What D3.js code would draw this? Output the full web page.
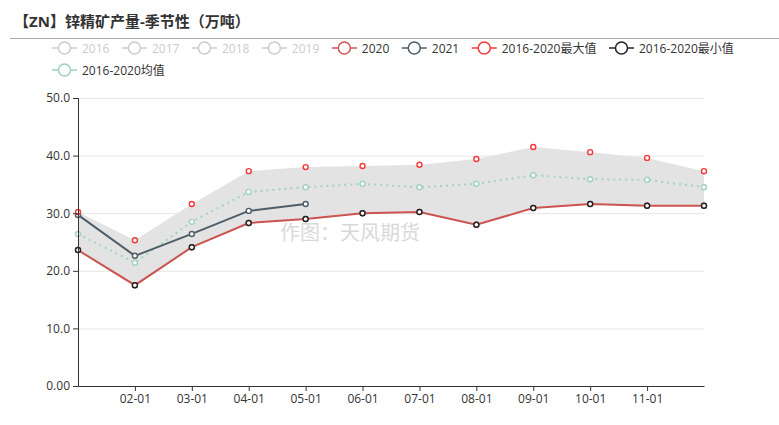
<!DOCTYPE html>
<html>
<head>
<meta charset="utf-8">
<script src="https://cdn.jsdelivr.net/npm/d3@7"></script>
<style>
  body { margin: 0; background: #fff; }
  text { font-family: "Open Sans", "Noto Sans CJK SC", sans-serif; }
</style>
</head>
<body>
<div id="chart"></div>
<script>
// categories and values (万吨)
var months = ["01-01", "02-01", "03-01", "04-01", "05-01", "06-01",
  "07-01", "08-01", "09-01", "10-01", "11-01", "12-01"];
var tickMonths = ["02-01", "03-01", "04-01", "05-01", "06-01", "07-01",
  "08-01", "09-01", "10-01", "11-01"];
var yTicks = [0, 10, 20, 30, 40, 50];
var yTickLabels = ["0.00", "10.0", "20.0", "30.0", "40.0", "50.0"];

var s2020 = [23.6, 17.5, 24.1, 28.3, 29.0, 30.0, 30.2, 28.0, 30.9, 31.6, 31.3, 31.3];
var s2021 = [29.7, 22.6, 26.4, 30.4, 31.6];
var sMax = [30.2, 25.3, 31.6, 37.3, 38.0, 38.2, 38.4, 39.4, 41.5, 40.6, 39.6, 37.3];
var sMin = [23.6, 17.5, 24.1, 28.3, 29.0, 30.0, 30.2, 28.0, 30.9, 31.6, 31.3, 31.3];
var sMean = [26.4, 21.4, 28.5, 33.7, 34.5, 35.1, 34.5, 35.1, 36.6, 35.9, 35.8, 34.5];

var legendItems = [
  { name: "2016", color: "#ccc", off: true },
  { name: "2017", color: "#ccc", off: true },
  { name: "2018", color: "#ccc", off: true },
  { name: "2019", color: "#ccc", off: true },
  { name: "2020", color: "#cc5450" },
  { name: "2021", color: "#4f5d69" },
  { name: "2016-2020最大值", color: "#f23a3a" },
  { name: "2016-2020最小值", color: "#222" },
  { name: "2016-2020均值", color: "#9fd0bb", row: 1 }
];

var w = 779, h = 425;
var padLeft = 78, padRight = 704, padTop = 98, padBottom = 386;

var svg = d3.select("#chart").append("svg")
  .attr("width", w)
  .attr("height", h);

// title
svg.append("text")
  .attr("x", 14).attr("y", 27)
  .attr("font-size", "15px").attr("font-weight", "bold")
  .attr("fill", "#333")
  .text("【ZN】锌精矿产量-季节性（万吨）");
svg.append("line")
  .attr("x1", 10).attr("x2", w).attr("y1", 38.5).attr("y2", 38.5)
  .attr("stroke", "#aaa");

// legend
var lx = 52;
legendItems.forEach(function(d) {
  if (d.row === 1) lx = 52;
  var ly = d.row === 1 ? 70 : 48;
  var g = svg.append("g").attr("transform", "translate(" + lx + "," + ly + ")");
  g.append("line").attr("x1", 0).attr("x2", 25).attr("y1", 0).attr("y2", 0)
    .attr("stroke", d.color).attr("stroke-width", 1.5);
  g.append("circle").attr("cx", 12.5).attr("cy", 0).attr("r", 6)
    .attr("fill", "#fff").attr("stroke", d.color).attr("stroke-width", 1.5);
  var t = g.append("text").attr("x", 30).attr("y", 4.5)
    .attr("font-size", "12px")
    .attr("fill", d.off ? "#ccc" : "#333")
    .text(d.name);
  lx += 30 + t.node().getComputedTextLength() + 12.5;
});

var x = d3.scalePoint().domain(months).range([padLeft, padRight]);
var y = d3.scaleLinear().domain([0, 50]).range([padBottom, padTop]);

// grid
svg.append("g").selectAll("line")
  .data(yTicks.slice(1))
  .enter().append("line")
  .attr("x1", padLeft).attr("x2", padRight)
  .attr("y1", function(d) { return y(d) + 0.5; })
  .attr("y2", function(d) { return y(d) + 0.5; })
  .attr("stroke", "#e6e6e6");

// min-max band
var area = d3.area()
  .x(function(d, i) { return x(months[i]); })
  .y0(function(d, i) { return y(sMin[i]); })
  .y1(function(d) { return y(d); });
svg.append("path").datum(sMax)
  .attr("d", area)
  .attr("fill", "#e3e3e3");

// watermark
svg.append("text")
  .attr("x", 280).attr("y", 240)
  .attr("font-size", "20px").attr("fill", "#d9d9d9")
  .text("作图：天风期货");

var line = d3.line()
  .x(function(d, i) { return x(months[i]); })
  .y(function(d) { return y(d); });

function drawSeries(data, color, opts) {
  if (opts.line) {
    svg.append("path").datum(data)
      .attr("d", line)
      .attr("fill", "none")
      .attr("stroke", color)
      .attr("stroke-width", opts.width || 2)
      .attr("stroke-dasharray", opts.dash || null);
  }
  svg.append("g").selectAll("circle")
    .data(data)
    .enter().append("circle")
    .attr("cx", function(d, i) { return x(months[i]); })
    .attr("cy", function(d) { return y(d); })
    .attr("r", 2.5)
    .attr("fill", "#fff")
    .attr("stroke", color)
    .attr("stroke-width", 1.4);
}

drawSeries(sMean, "#a3d2bf", { line: true, dash: "2,4", width: 2 });
drawSeries(s2020, "#cc5450", { line: true, width: 2 });
drawSeries(s2021, "#4f5d69", { line: true, width: 2 });
drawSeries(sMax, "#f23a3a", { line: false });
drawSeries(sMin, "#222", { line: false });

// axes
var yAxis = d3.axisLeft(y)
  .tickValues(yTicks)
  .tickSize(5)
  .tickFormat(function(d, i) { return yTickLabels[i]; });
var gy = svg.append("g").attr("transform", "translate(" + padLeft + ",0)").call(yAxis);
gy.select(".domain").attr("stroke", "#333");
gy.selectAll(".tick line").attr("stroke", "#333");
gy.selectAll("text").attr("font-size", "12px").attr("fill", "#333")
  .attr("font-family", "Open Sans, Noto Sans CJK SC, sans-serif");

var xAxis = d3.axisBottom(x)
  .tickValues(tickMonths)
  .tickSize(5)
  .tickSizeOuter(0);
var gx = svg.append("g").attr("transform", "translate(0," + padBottom + ")").call(xAxis);
gx.select(".domain").attr("stroke", "#333");
gx.selectAll(".tick line").attr("stroke", "#333");
gx.selectAll("text").attr("font-size", "12px").attr("fill", "#333")
  .attr("font-family", "Open Sans, Noto Sans CJK SC, sans-serif");
</script>
</body>
</html>
